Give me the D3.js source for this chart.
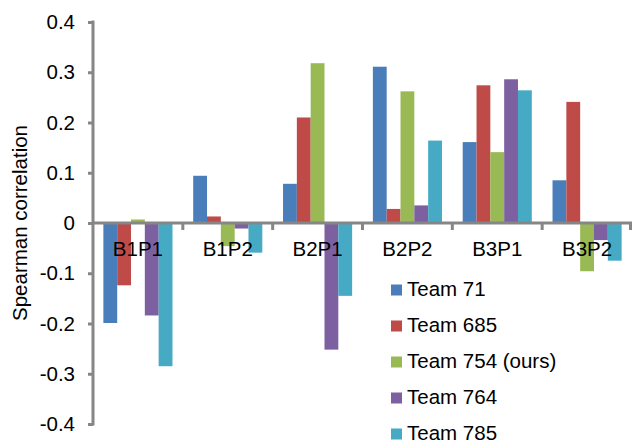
<!DOCTYPE html>
<html>
<head>
<meta charset="utf-8">
<script src="https://cdn.jsdelivr.net/npm/d3@7"></script>
<style>
  body { margin: 0; background: #fff; }
  text { font-family: "Liberation Sans", Arial, sans-serif; fill: #000; }
</style>
</head>
<body>
<div id="chart"></div>
<script>
const categories = ["B1P1", "B1P2", "B2P1", "B2P2", "B3P1", "B3P2"];
const teams = ["Team 71", "Team 685", "Team 754 (ours)", "Team 764", "Team 785"];
const colors = ["#4a7ebb", "#be4b48", "#98b954", "#7d60a0", "#46aac5"];
// one array per team, values in category order
const team71 = [-0.199, 0.094, 0.078, 0.311, 0.161, 0.085];
const team685 = [-0.124, 0.013, 0.210, 0.028, 0.274, 0.241];
const team754 = [0.007, -0.046, 0.318, 0.262, 0.141, -0.096];
const team764 = [-0.184, -0.011, -0.252, 0.035, 0.286, -0.034];
const team785 = [-0.285, -0.059, -0.145, 0.164, 0.264, -0.075];
const yTicks = [-0.4, -0.3, -0.2, -0.1, 0, 0.1, 0.2, 0.3, 0.4];

const series = [team71, team685, team754, team764, team785];
const w = 632, h = 444;
const margin = { t: 22, r: 0, b: 20, l: 93 };

const svg = d3.select("#chart").append("svg")
  .attr("width", w).attr("height", h);

const x0 = d3.scaleBand().domain(categories).range([margin.l, w - margin.r]);
const x1 = d3.scaleBand().domain(teams).range([0, x0.bandwidth()])
  .paddingInner(0).paddingOuter(0.75);
const y = d3.scaleLinear().domain([-0.4, 0.4]).range([h - margin.b, margin.t]);

const axisColor = "#868686";

// y axis (plain hyphen for negatives, like the original)
const fmt = d => d === 0 ? "0" : d3.format(".1f")(d).replace("\u2212", "-");
const yAxisG = svg.append("g")
  .attr("transform", `translate(${margin.l},0)`)
  .call(d3.axisLeft(y).tickValues(yTicks).tickSize(5).tickPadding(13).tickFormat(fmt));
yAxisG.select(".domain").remove();
yAxisG.selectAll(".tick line").attr("stroke", axisColor).attr("stroke-width", 3);
yAxisG.selectAll(".tick text").attr("font-size", 20.5).attr("fill", "#000")
  .style("font-family", "'Liberation Sans', Arial, sans-serif");
yAxisG.append("line")
  .attr("x1", 0).attr("x2", 0)
  .attr("y1", y(0.4) - 1.5).attr("y2", y(-0.4) + 1.5)
  .attr("stroke", axisColor).attr("stroke-width", 3);

// bars
const groups = svg.append("g").selectAll("g")
  .data(categories)
  .join("g")
  .attr("transform", d => `translate(${x0(d)},0)`);

groups.selectAll("rect")
  .data((c, i) => series.map((s, k) => ({ team: teams[k], color: colors[k], v: s[i] })))
  .join("rect")
  .attr("x", d => x1(d.team))
  .attr("width", x1.bandwidth())
  .attr("y", d => y(Math.max(0, d.v)))
  .attr("height", d => Math.abs(y(d.v) - y(0)))
  .attr("fill", d => d.color);

// zero line + category ticks
svg.append("line")
  .attr("x1", margin.l).attr("x2", w)
  .attr("y1", y(0)).attr("y2", y(0))
  .attr("stroke", axisColor).attr("stroke-width", 3);
svg.append("g").selectAll("line")
  .data(categories.slice(1).concat(["end"]))
  .join("line")
  .attr("x1", d => d === "end" ? w - 1.5 : x0(d))
  .attr("x2", d => d === "end" ? w - 1.5 : x0(d))
  .attr("y1", y(0)).attr("y2", y(0) + 7)
  .attr("stroke", axisColor).attr("stroke-width", 3);

// category labels
svg.append("g").selectAll("text")
  .data(categories)
  .join("text")
  .attr("x", d => x0(d) + x0.bandwidth() / 2)
  .attr("y", y(0) + 33)
  .attr("text-anchor", "middle")
  .attr("font-size", 20.5)
  .text(d => d);

// y title
svg.append("text")
  .attr("transform", `translate(27,${y(0)}) rotate(-90)`)
  .attr("text-anchor", "middle")
  .attr("font-size", 20.5)
  .text("Spearman correlation");

// legend
const legend = svg.append("g").attr("transform", "translate(391,290)");
const li = legend.selectAll("g").data(teams).join("g")
  .attr("transform", (d, i) => `translate(0,${i * 36})`);
li.append("rect").attr("x", 0).attr("y", -5.5).attr("width", 11).attr("height", 11)
  .attr("fill", (d, i) => colors[i]);
li.append("text").attr("x", 16).attr("y", 5.5).attr("font-size", 20.5).text(d => d);
</script>
</body>
</html>
